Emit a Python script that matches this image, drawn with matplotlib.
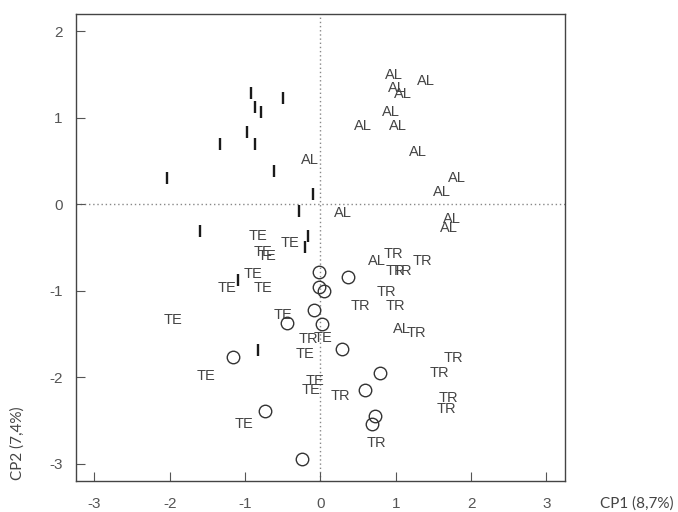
"""
plot.py — PCA score plot (CP1 vs CP2) with group labels AL / TE / TR,
bar markers and open circles.
"""
import matplotlib
matplotlib.use("Agg")
import matplotlib.pyplot as plt

# ── Data ──────────────────────────────────────────────────────────────────────
al_x = [0.98, 1.40, 1.01, 1.09, 0.93, 0.57, 1.03, 1.30, -0.14, 1.81, 1.61,
        0.30, 1.75, 1.70, 0.75, 1.08]
al_y = [1.50, 1.42, 1.34, 1.27, 1.07, 0.91, 0.91, 0.60, 0.51, 0.31, 0.14,
        -0.10, -0.17, -0.27, -0.66, -1.44]

tr_x = [0.97, 1.36, 1.00, 1.09, 0.88, 0.53, 1.00, 1.28, 1.76, 1.58, 1.70,
        1.67, 0.26, 0.75, -0.16]
tr_y = [-0.57, -0.66, -0.77, -0.77, -1.01, -1.17, -1.18, -1.49, -1.78, -1.95,
        -2.24, -2.36, -2.21, -2.76, -1.56]

te_x = [-0.83, -0.40, -0.76, -0.71, -0.89, -1.24, -0.76, -1.95, -0.50, 0.03,
        -0.21, -1.52, -0.07, -0.12, -1.02]
te_y = [-0.36, -0.45, -0.55, -0.60, -0.80, -0.97, -0.97, -1.34, -1.28, -1.55,
        -1.73, -1.98, -2.04, -2.14, -2.54]

bar_x = [-0.92, -0.50, -0.87, -0.79, -0.98, -1.33, -0.87, -0.62, -2.04, -0.10,
         -0.29, -1.60, -0.16, -0.21, -1.10, -0.83]
bar_y = [1.29, 1.23, 1.13, 1.07, 0.84, 0.70, 0.70, 0.39, 0.31, 0.12, -0.08,
         -0.31, -0.36, -0.49, -0.87, -1.68]

circ_x = [-0.02, 0.37, -0.02, 0.05, -0.09, -0.45, 0.02, 0.28, -1.16, 0.79,
          0.59, 0.73, 0.69, -0.74, -0.24]
circ_y = [-0.78, -0.84, -0.95, -1.00, -1.22, -1.37, -1.38, -1.67, -1.76, -1.95,
          -2.14, -2.45, -2.54, -2.39, -2.94]

x_ticks = [-3, -2, -1, 0, 1, 2, 3]
y_ticks = [-3, -2, -1, 0, 1, 2]
x_label = "CP1 (8,7%)"
y_label = "CP2 (7,4%)"

# ── Figure ────────────────────────────────────────────────────────────────────
fig = plt.figure(figsize=(6.78, 5.12), dpi=100)
ax = fig.add_axes([0.1125, 0.06, 0.7213, 0.9127])

ax.set_xlim(-3.24, 3.25)
ax.set_ylim(-3.20, 2.20)

# dotted zero lines
ax.axvline(0, color="#888888", linestyle=(0, (1, 2)), linewidth=1.0, zorder=1)
ax.axhline(0, color="#888888", linestyle=(0, (1, 2)), linewidth=1.0, zorder=1)

txt_kw = dict(ha="center", va="center", fontsize=10.5, color="#444444",
              family="Liberation Sans", zorder=3)
for x, y in zip(al_x, al_y):
    ax.text(x, y, "AL", **txt_kw)
for x, y in zip(tr_x, tr_y):
    ax.text(x, y, "TR", **txt_kw)
for x, y in zip(te_x, te_y):
    ax.text(x, y, "TE", **txt_kw)

ax.plot(bar_x, bar_y, linestyle="none", marker="|", markersize=9.2,
        markeredgewidth=1.7, color="#1a1a1a", zorder=3)
ax.plot(circ_x, circ_y, linestyle="none", marker="o", markersize=9,
        markerfacecolor="none", markeredgecolor="#333333",
        markeredgewidth=1.0, zorder=3)

# ── Axes styling ──────────────────────────────────────────────────────────────
for s in ax.spines.values():
    s.set_color("#444444")
    s.set_linewidth(1.0)

ax.set_xticks(x_ticks)
ax.set_yticks(y_ticks)
ax.set_xticklabels([str(t) for t in x_ticks])
ax.set_yticklabels([str(t) for t in y_ticks])
ax.tick_params(direction="in", length=6.5, width=0.8, color="#555555",
               labelcolor="#555555", labelsize=11)
ax.tick_params(axis="x", pad=11)
ax.tick_params(axis="y", pad=10)
for lab in ax.get_xticklabels() + ax.get_yticklabels():
    lab.set_family("Liberation Sans")

fig.text(637 / 678, 1 - 504 / 512, x_label, ha="center", va="center",
         fontsize=11, color="#444444", family="Lato")
fig.text(18 / 678, 1 - 443 / 512, y_label, ha="center", va="center",
         rotation=90, fontsize=11, color="#444444", family="Lato")

fig.savefig("out.png", dpi=100)
